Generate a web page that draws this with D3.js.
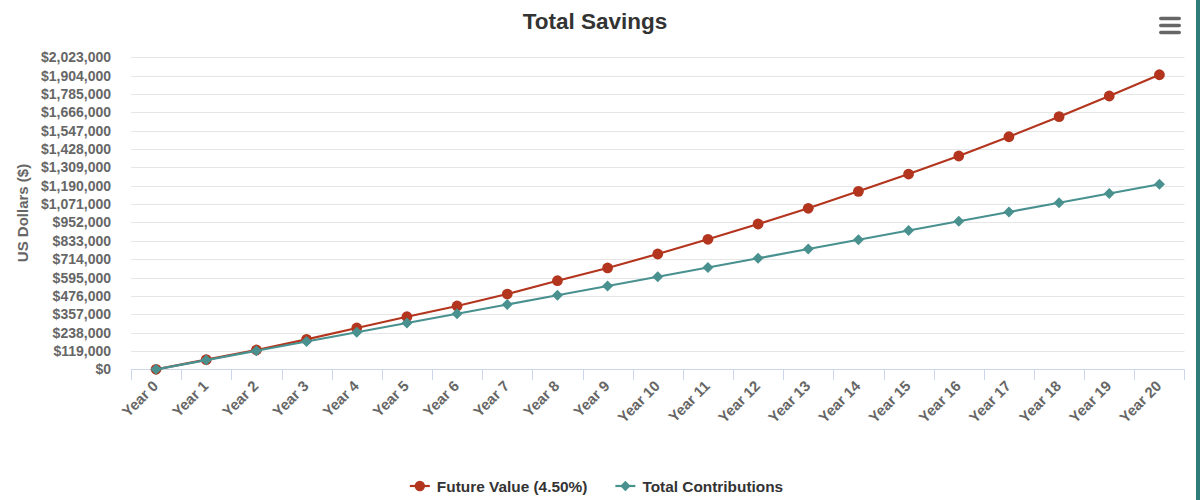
<!DOCTYPE html>
<html>
<head>
<meta charset="utf-8">
<script src="https://cdn.jsdelivr.net/npm/d3@7/dist/d3.min.js"></script>
<style>
  html, body { margin: 0; padding: 0; background: #fff; }
  svg { display: block; font-family: "Liberation Sans", Arial, Helvetica, sans-serif; }
</style>
</head>
<body>
<div id="chart"></div>
<script>
// values
var years = ['Year 0', 'Year 1', 'Year 2', 'Year 3', 'Year 4', 'Year 5', 'Year 6',
  'Year 7', 'Year 8', 'Year 9', 'Year 10', 'Year 11', 'Year 12', 'Year 13',
  'Year 14', 'Year 15', 'Year 16', 'Year 17', 'Year 18', 'Year 19', 'Year 20'];

var futureValue = [0, 63000, 125000, 194500, 268000, 341000, 410500, 488000,
  574500, 657000, 747500, 843000, 942000, 1044000, 1154000, 1266000,
  1383000, 1508000, 1638000, 1772000, 1910000];

var totalContributions = [0, 60000, 120000, 180000, 240000, 300000, 360000,
  420000, 480000, 540000, 600000, 660000, 720000, 780000, 840000, 900000,
  960000, 1020000, 1080000, 1140000, 1200000];

var yTicks = [0, 119000, 238000, 357000, 476000, 595000, 714000, 833000, 952000,
  1071000, 1190000, 1309000, 1428000, 1547000, 1666000, 1785000, 1904000, 2023000];

var seriesNames = ['Future Value (4.50%)', 'Total Contributions'];

var width = 1200, height = 500;
var red = '#b3351e', teal = '#48918f';

var svg = d3.select('#chart')
  .append('svg')
  .attr('width', width)
  .attr('height', height);

var x = d3.scaleBand()
  .domain(years)
  .range([131, 1184.5])
  .padding(0);

var y = d3.scaleLinear()
  .domain([0, yTicks[yTicks.length - 1]])
  .range([369.3, 57.3]);

var cx = function (d) { return x(d) + x.bandwidth() / 2; };

// title
svg.append('text')
  .attr('x', 595)
  .attr('y', 29)
  .attr('text-anchor', 'middle')
  .attr('font-size', 22.5)
  .attr('font-weight', 'bold')
  .attr('fill', '#333')
  .text('Total Savings');

// menu icon
svg.append('g')
  .selectAll('rect')
  .data([18.5, 25.5, 32.5])
  .enter()
  .append('rect')
  .attr('x', 1159)
  .attr('y', function (d) { return d - 1.7; })
  .attr('width', 22)
  .attr('height', 3.4)
  .attr('rx', 1.7)
  .attr('fill', '#666');

// teal strip on right edge
svg.append('rect')
  .attr('x', 1196)
  .attr('y', 0)
  .attr('width', 4)
  .attr('height', height)
  .attr('fill', '#2f7c79');

// grid lines
svg.append('g')
  .selectAll('line')
  .data(yTicks.slice(1))
  .enter()
  .append('line')
  .attr('x1', 131)
  .attr('x2', 1184.5)
  .attr('y1', function (d) { return Math.round(y(d)) + 0.5; })
  .attr('y2', function (d) { return Math.round(y(d)) + 0.5; })
  .attr('stroke', '#e6e6e6')
  .attr('stroke-width', 1);

// y axis labels
var yAxis = svg.append('g')
  .attr('transform', 'translate(131,0)')
  .call(d3.axisLeft(y)
    .tickValues(yTicks)
    .tickSize(0)
    .tickPadding(20)
    .tickFormat(function (d) { return '$' + d3.format(',')(d); }));
yAxis.select('.domain').remove();
yAxis.selectAll('text')
  .attr('font-family', '"Liberation Sans", Arial, sans-serif')
  .attr('font-size', 14)
  .attr('font-weight', 'bold')
  .attr('fill', '#666');

svg.append('text')
  .attr('transform', 'translate(28,213) rotate(-90)')
  .attr('text-anchor', 'middle')
  .attr('font-size', 15)
  .attr('font-weight', 'bold')
  .attr('fill', '#666')
  .text('US Dollars ($)');

// x axis line, ticks at band edges
var xAxis = svg.append('g');
xAxis.append('line')
  .attr('x1', 131)
  .attr('x2', 1184.5)
  .attr('y1', 369.5)
  .attr('y2', 369.5)
  .attr('stroke', '#ccd6eb');
xAxis.selectAll('line.tick')
  .data(years.concat(['end']))
  .enter()
  .append('line')
  .attr('class', 'tick')
  .attr('x1', function (d) { return d === 'end' ? 1184.5 : Math.round(x(d)) + 0.5; })
  .attr('x2', function (d) { return d === 'end' ? 1184.5 : Math.round(x(d)) + 0.5; })
  .attr('y1', 369.5)
  .attr('y2', 380)
  .attr('stroke', '#ccd6eb');
xAxis.selectAll('text')
  .data(years)
  .enter()
  .append('text')
  .attr('transform', function (d) {
    return 'translate(' + (cx(d) + 3) + ',387) rotate(-45)';
  })
  .attr('text-anchor', 'end')
  .attr('font-size', 14.8)
  .attr('font-weight', 'bold')
  .attr('fill', '#666')
  .text(function (d) { return d; });

// lines
var line = function (values) {
  return d3.line()
    .x(function (d, i) { return cx(years[i]); })
    .y(function (d) { return y(d); })(values);
};

var diamond = function (r) {
  return 'M0,' + (-r) + 'L' + r + ',0L0,' + r + 'L' + (-r) + ',0Z';
};

svg.append('path')
  .attr('d', line(futureValue))
  .attr('fill', 'none')
  .attr('stroke', red)
  .attr('stroke-width', 2.2);

svg.append('g')
  .selectAll('circle')
  .data(futureValue)
  .enter()
  .append('circle')
  .attr('cx', function (d, i) { return cx(years[i]); })
  .attr('cy', function (d) { return y(d); })
  .attr('r', 5.4)
  .attr('fill', red);

svg.append('path')
  .attr('d', line(totalContributions))
  .attr('fill', 'none')
  .attr('stroke', teal)
  .attr('stroke-width', 2.2);

svg.append('g')
  .selectAll('path')
  .data(totalContributions)
  .enter()
  .append('path')
  .attr('transform', function (d, i) {
    return 'translate(' + cx(years[i]) + ',' + y(d) + ')';
  })
  .attr('d', diamond(5.5))
  .attr('fill', teal);

// legend
var legend = svg.append('g');
var legendColors = [red, teal];
var lx = 0;
seriesNames.forEach(function (name, i) {
  var item = legend.append('g').attr('transform', 'translate(' + lx + ',0)');
  item.append('line')
    .attr('x1', 0).attr('x2', 20)
    .attr('y1', 0).attr('y2', 0)
    .attr('stroke', legendColors[i])
    .attr('stroke-width', 2.2);
  if (i === 0) {
    item.append('circle').attr('cx', 10).attr('cy', 0).attr('r', 5.2).attr('fill', red);
  } else {
    item.append('path').attr('transform', 'translate(10,0)').attr('d', diamond(5.2)).attr('fill', teal);
  }
  var t = item.append('text')
    .attr('x', 27)
    .attr('y', 5.5)
    .attr('font-size', 15.4)
    .attr('font-weight', 'bold')
    .attr('fill', '#333')
    .text(name);
  lx += 27 + t.node().getComputedTextLength() + 28;
});
var legendWidth = lx - 28;
legend.attr('transform', 'translate(' + (596.5 - legendWidth / 2) + ',486)');
</script>
</body>
</html>
